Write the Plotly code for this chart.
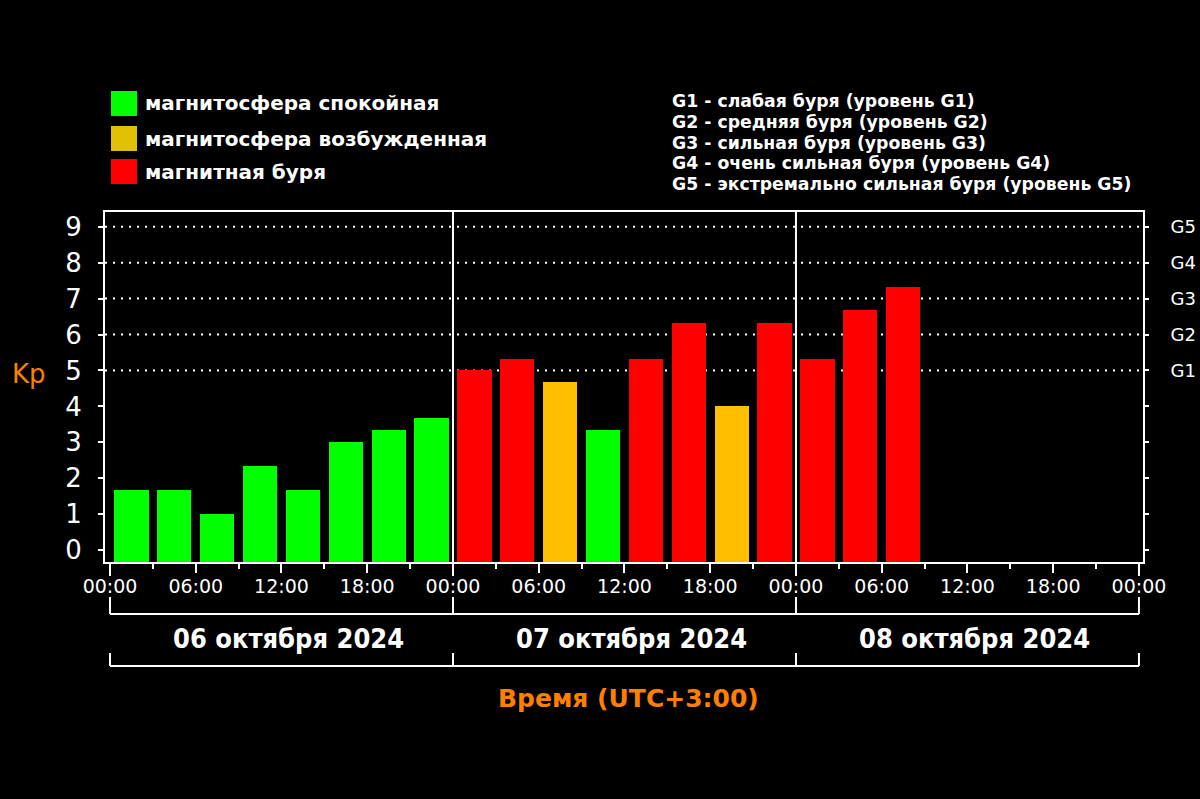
import plotly.graph_objects as go

# ---- data ----
bar_times = [
    "2024-10-06 01:30", "2024-10-06 04:30", "2024-10-06 07:30", "2024-10-06 10:30",
    "2024-10-06 13:30", "2024-10-06 16:30", "2024-10-06 19:30", "2024-10-06 22:30",
    "2024-10-07 01:30", "2024-10-07 04:30", "2024-10-07 07:30", "2024-10-07 10:30",
    "2024-10-07 13:30", "2024-10-07 16:30", "2024-10-07 19:30", "2024-10-07 22:30",
    "2024-10-08 01:30", "2024-10-08 04:30", "2024-10-08 07:30",
]
kp_values = [1.67, 1.67, 1.0, 2.33, 1.67, 3.0, 3.33, 3.67,
             5.0, 5.33, 4.67, 3.33, 5.33, 6.33, 4.0, 6.33,
             5.33, 6.67, 7.33]
levels = ["quiet", "quiet", "quiet", "quiet", "quiet", "quiet", "quiet", "quiet",
          "storm", "storm", "active", "quiet", "storm", "storm", "active", "storm",
          "storm", "storm", "storm"]

day_bounds = ["2024-10-06 00:00", "2024-10-07 00:00", "2024-10-08 00:00", "2024-10-09 00:00"]
day_centers = ["2024-10-06 12:00", "2024-10-07 12:00", "2024-10-08 12:00"]
day_labels = ["06 октября 2024", "07 октября 2024", "08 октября 2024"]

tick_times = ["2024-10-06 00:00", "2024-10-06 06:00", "2024-10-06 12:00", "2024-10-06 18:00",
              "2024-10-07 00:00", "2024-10-07 06:00", "2024-10-07 12:00", "2024-10-07 18:00",
              "2024-10-08 00:00", "2024-10-08 06:00", "2024-10-08 12:00", "2024-10-08 18:00",
              "2024-10-09 00:00"]
tick_labels = ["00:00", "06:00", "12:00", "18:00"] * 3 + ["00:00"]

y_ticks = list(range(10))
g_labels = ["", "", "", "", "", "G1", "G2", "G3", "G4", "G5"]
grid_levels = [5, 6, 7, 8, 9]

legend_labels = ["магнитосфера спокойная", "магнитосфера возбужденная", "магнитная буря"]
legend_colors = ["#00FF00", "#E0C000", "#FF0000"]
g_text = [
    "G1 - слабая буря (уровень G1)",
    "G2 - средняя буря (уровень G2)",
    "G3 - сильная буря (уровень G3)",
    "G4 - очень сильная буря (уровень G4)",
    "G5 - экстремально сильная буря (уровень G5)",
]

bar_colors = {"quiet": "#00FF00", "active": "#FFBF00", "storm": "#FF0000"}

# ---- layout geometry (pixels) ----
W, H = 1200, 799
L, R, T, B = 105, 1143, 212, 562
PW, PH = R - L, B - T
Y_MIN, Y_MAX = -0.33, 9.41


def xp(px):
    return (px - L) / PW


def yp(py):
    return (B - py) / PH


fig = go.Figure()
# bars start at the bottom of the plot frame (as in the original)
fig.add_trace(go.Bar(
    x=bar_times, y=[v - Y_MIN for v in kp_values], base=Y_MIN,
    customdata=kp_values, hovertemplate="%{x}<br>Kp = %{customdata}<extra></extra>",
    marker=dict(color=[bar_colors[l] for l in levels], line=dict(width=0)),
    width=2.4 * 3600 * 1000, showlegend=False,
))
# invisible trace for right axis
fig.add_trace(go.Scatter(x=[bar_times[0]], y=[0], yaxis="y2", mode="markers",
                         marker=dict(opacity=0), showlegend=False, hoverinfo="skip"))

shapes = []
# dotted grid
for g in grid_levels:
    shapes.append(dict(type="line", xref="paper", yref="y", x0=0, x1=1, y0=g, y1=g,
                       line=dict(color="white", width=2, dash="2px,6px"), layer="below"))
# day separators inside plot
for d in day_bounds[1:3]:
    shapes.append(dict(type="line", xref="x", yref="paper", x0=d, x1=d, y0=0, y1=1,
                       line=dict(color="white", width=2), layer="above"))
# below-axis day markers
for d in day_bounds:
    shapes.append(dict(type="line", xref="x", yref="paper", x0=d, x1=d,
                       y0=yp(563), y1=yp(576), line=dict(color="white", width=2)))
    shapes.append(dict(type="line", xref="x", yref="paper", x0=d, x1=d,
                       y0=yp(597), y1=yp(614), line=dict(color="white", width=2)))
    shapes.append(dict(type="line", xref="x", yref="paper", x0=d, x1=d,
                       y0=yp(653), y1=yp(666), line=dict(color="white", width=2)))
shapes.append(dict(type="line", xref="x", yref="paper", x0=day_bounds[0], x1=day_bounds[-1],
                   y0=yp(614), y1=yp(614), line=dict(color="white", width=2)))
shapes.append(dict(type="line", xref="x", yref="paper", x0=day_bounds[0], x1=day_bounds[-1],
                   y0=yp(666), y1=yp(666), line=dict(color="white", width=2)))
# legend squares
sq_tops = [91, 126, 159]
for top, col in zip(sq_tops, legend_colors):
    shapes.append(dict(type="rect", xref="paper", yref="paper",
                       x0=xp(111), x1=xp(137), y0=yp(top + 25), y1=yp(top),
                       fillcolor=col, line=dict(width=0)))

annotations = []
for top, lab in zip(sq_tops, legend_labels):
    annotations.append(dict(text="<b>" + lab + "</b>", xref="paper", yref="paper", x=xp(143), y=yp(top + 12.5),
                            xanchor="left", yanchor="middle", showarrow=False,
                            font=dict(family="DejaVu Sans", size=20, color="white")))
for i, t in enumerate(g_text):
    annotations.append(dict(text="<b>" + t + "</b>", xref="paper", yref="paper", x=xp(670), y=yp(101 + i * 20.8),
                            xanchor="left", yanchor="middle", showarrow=False,
                            font=dict(family="DejaVu Sans", size=17.3, color="white")))
for c, lab in zip(day_centers, day_labels):
    annotations.append(dict(text="<b>" + lab + "</b>", xref="x", yref="paper", x=c, y=yp(638),
                            xanchor="center", yanchor="middle", showarrow=False, xshift=7,
                            font=dict(family="DejaVu Sans Condensed, DejaVu Sans", size=27, color="white")))
annotations.append(dict(text="Kp", xref="paper", yref="paper", x=xp(10), y=yp(374),
                        xanchor="left", yanchor="middle", showarrow=False,
                        font=dict(family="DejaVu Sans", size=26, color="#FF8000")))
annotations.append(dict(text="<b>Время (UTC+3:00)</b>", xref="paper", yref="paper", x=xp(628), y=yp(698),
                        xanchor="center", yanchor="middle", showarrow=False,
                        font=dict(family="DejaVu Sans", size=25, color="#FF8000")))

fig.update_layout(
    width=W, height=H, autosize=False,
    margin=dict(l=L, r=W - R, t=T, b=H - B, pad=0, autoexpand=False),
    paper_bgcolor="black", plot_bgcolor="black",
    bargap=0, showlegend=False,
    xaxis=dict(
        type="date", range=["2024-10-05 23:39", "2024-10-09 00:17"], automargin=False,
        tickmode="array", tickvals=tick_times, ticktext=tick_labels,
        ticks="outside", ticklen=9, tickwidth=2, tickcolor="white",
        minor=dict(dtick=3 * 3600 * 1000, tick0="2024-10-06 00:00", ticks="outside",
                   ticklen=5, tickwidth=2, tickcolor="white", showgrid=False),
        tickfont=dict(family="DejaVu Sans", size=19, color="white"),
        ticklabelstandoff=-3,
        showgrid=False, zeroline=False,
        showline=True, linecolor="white", linewidth=2, mirror=True,
    ),
    yaxis=dict(
        range=[Y_MIN, Y_MAX], tickmode="array", tickvals=y_ticks, automargin=False,
        ticks="outside", ticklen=5, tickwidth=2, tickcolor="white",
        tickfont=dict(family="DejaVu Sans", size=26, color="white"),
        ticklabelstandoff=11,
        showgrid=False, zeroline=False,
        showline=True, linecolor="white", linewidth=2, mirror=True,
    ),
    yaxis2=dict(
        range=[Y_MIN, Y_MAX], overlaying="y", side="right", automargin=False,
        tickmode="array", tickvals=y_ticks, ticktext=g_labels,
        ticks="outside", ticklen=5, tickwidth=2, tickcolor="white",
        tickfont=dict(family="DejaVu Sans", size=18, color="white"),
        ticklabelstandoff=18,
        showgrid=False, zeroline=False, showline=False,
    ),
    shapes=shapes, annotations=annotations,
)

fig.write_html(
    "out.html",
    config={"displayModeBar": False, "responsive": False},
    post_script="document.body.style.margin='0';document.body.style.padding='0';"
                "document.body.style.overflow='hidden';"
                "document.documentElement.style.overflow='hidden';"
                "document.body.style.background='black';"
                "document.documentElement.style.background='black';",
)
